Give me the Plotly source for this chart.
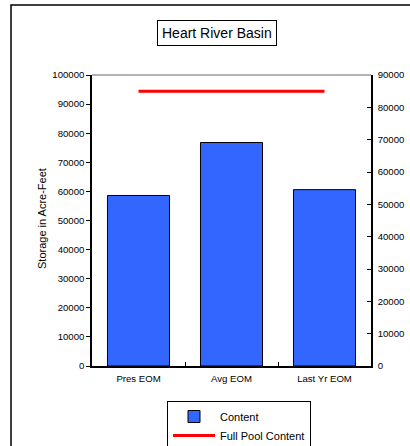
import plotly.graph_objects as go

categories = ["Pres EOM", "Avg EOM", "Last Yr EOM"]
content = [58600, 76800, 60600]
full_pool = [85000, 85000, 85000]
left_ticks = list(range(0, 100001, 10000))
right_ticks = list(range(0, 90001, 10000))

FONT = "Arial, 'Liberation Sans', sans-serif"

W, H = 410, 446
L, R, T, B = 92, 39, 75, 80
pw = W - L - R
ph = H - T - B

def px_x(x):
    return (x - L) / pw

def px_y(y):
    return (H - B - y) / ph

fig = go.Figure()
fig.add_trace(go.Bar(
    x=categories, y=content, name="Content",
    marker=dict(color="#3366FF", line=dict(color="black", width=1)),
    yaxis="y",
))
fig.add_trace(go.Scatter(
    x=categories, y=full_pool, name="Full Pool Content",
    mode="lines", line=dict(color="#FF0000", width=3),
    yaxis="y2",
))

fig.update_layout(
    width=W, height=H,
    margin=dict(l=L, r=R, t=T, b=B, pad=0, autoexpand=False),
    paper_bgcolor="white", plot_bgcolor="white",
    font=dict(family=FONT, size=9.6, color="black"),
    bargap=0.333,
    showlegend=True,
    legend=dict(
        x=px_x(167), xanchor="left", y=px_y(401), yanchor="top",
        orientation="v", bordercolor="black", borderwidth=1,
        bgcolor="white", font=dict(size=11, family=FONT),
        tracegroupgap=0, itemwidth=42,
    ),
    xaxis=dict(
        showline=True, linecolor="black", linewidth=1.5, automargin=False,
        ticks="inside", tickson="boundaries", ticklen=4, tickcolor="black",
        showgrid=False, zeroline=False, tickfont=dict(size=9.6),
        ticklabelstandoff=3,
    ),
    yaxis=dict(
        range=[0, 100000], tickvals=left_ticks, ticktext=[str(v) for v in left_ticks],
        showline=True, linecolor="black", linewidth=1.5, automargin=False,
        ticks="outside", ticklen=4, tickcolor="black",
        showgrid=False, zeroline=False,
    ),
    yaxis2=dict(
        range=[0, 90000], tickvals=right_ticks, ticktext=[str(v) for v in right_ticks],
        overlaying="y", side="right", automargin=False,
        showline=True, linecolor="black", linewidth=1.5,
        ticks="inside", ticklen=4, tickcolor="black",
        showgrid=False, zeroline=False, ticklabelstandoff=3,
    ),
    shapes=[
        # outer chart frame
        dict(type="rect", xref="paper", yref="paper",
             x0=px_x(11), x1=px_x(420), y0=px_y(456), y1=px_y(5),
             line=dict(color="black", width=1.5), fillcolor="rgba(0,0,0,0)", layer="below"),
        # plot area top border
        dict(type="line", xref="paper", yref="paper",
             x0=0, x1=1, y0=1, y1=1, line=dict(color="#666666", width=1)),
    ],
    annotations=[
        dict(text="Heart River Basin", xref="paper", yref="paper",
             x=px_x(217), y=px_y(33), xanchor="center", yanchor="middle",
             showarrow=False, font=dict(size=14, family=FONT),
             bordercolor="black", borderwidth=1, borderpad=4, bgcolor="white"),
        dict(text="Storage in Acre-Feet", xref="paper", yref="paper",
             x=px_x(41.5), y=px_y(218.5), xanchor="center", yanchor="middle",
             textangle=-90, showarrow=False, font=dict(size=11, family=FONT)),
    ],
)

fig.write_html(
    "out.html",
    config={"displayModeBar": False},
    post_script="document.body.style.margin='0';document.body.style.overflow='hidden';",
)
